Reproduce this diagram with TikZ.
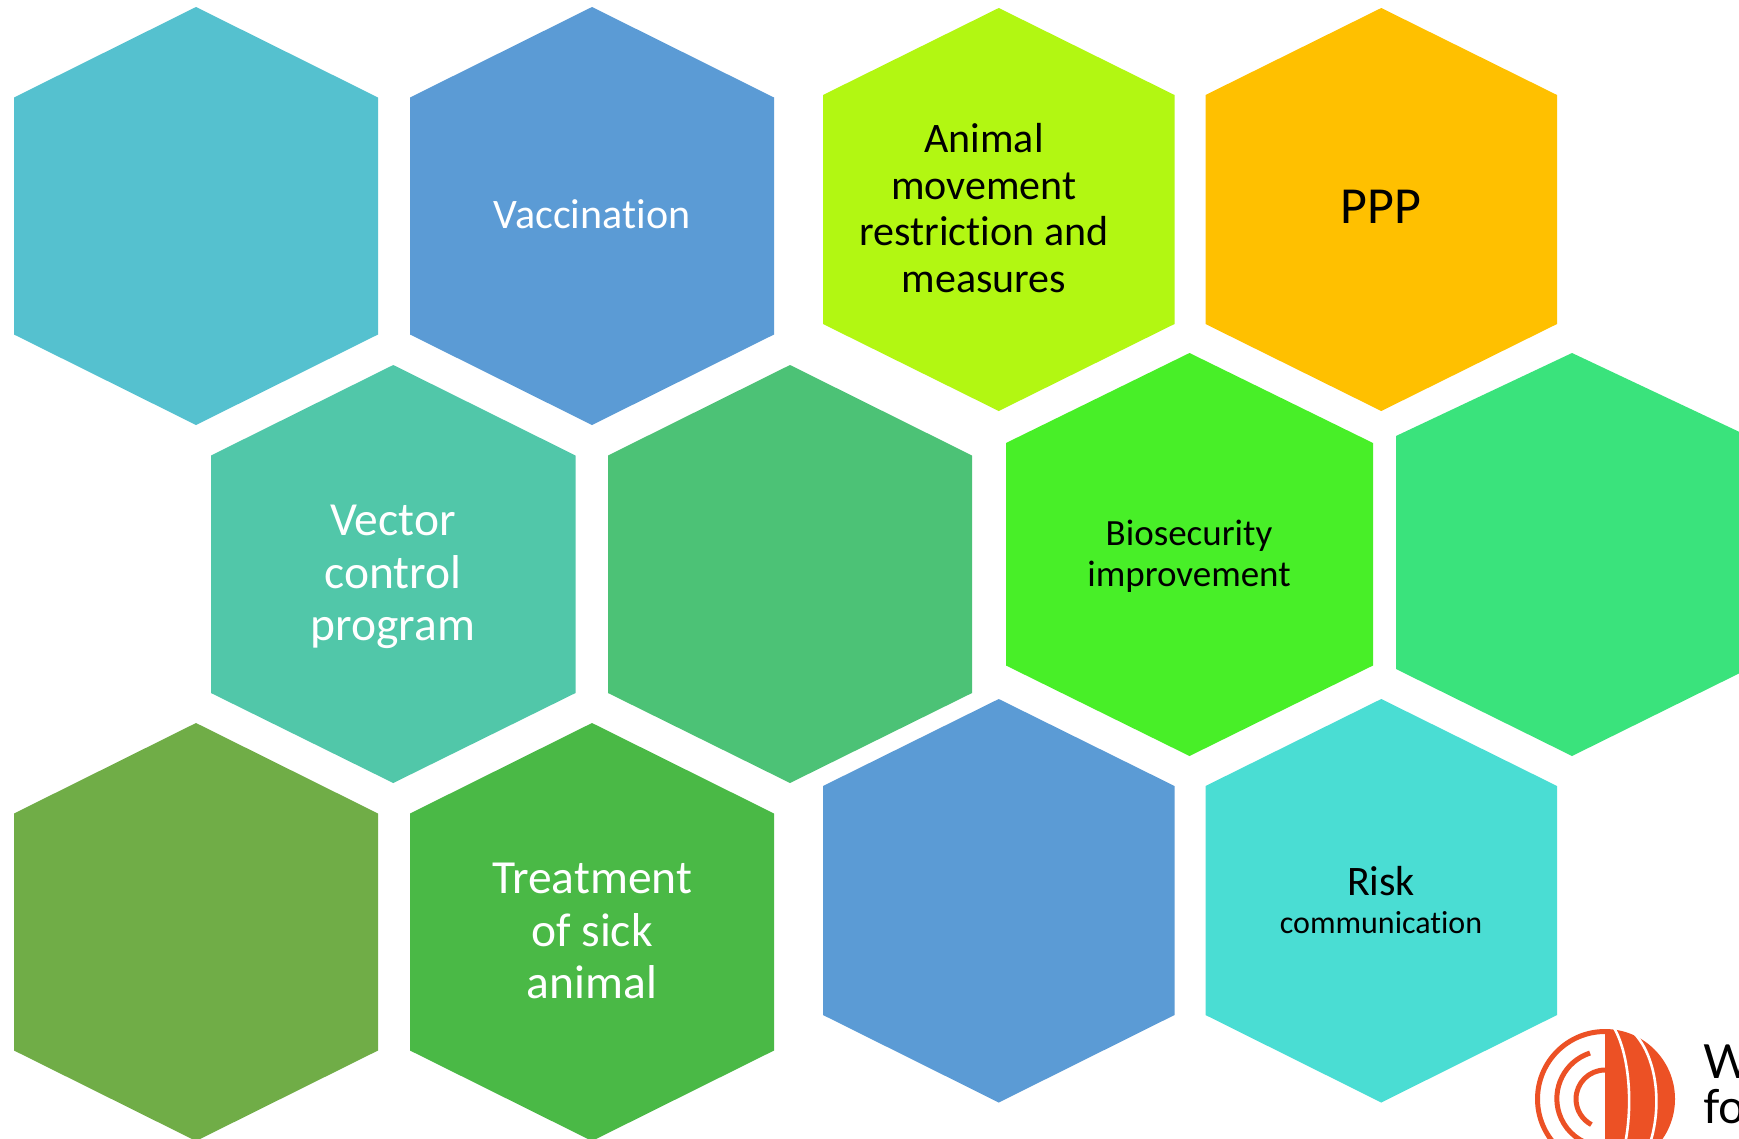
\documentclass[tikz,border=0pt]{standalone}
\usepackage{fontspec}
\setmainfont[Ligatures=NoCommon]{Carlito}
\newfontfamily\logofont{Lato}
\tikzset{
  x=1pt,y=-1pt,
  textbase/.style={inner sep=0pt,align=center,anchor=center},
  lightlabel/.style={textbase,text=white},
  darklabel/.style={textbase,text=black},
}
\newcommand{\sized}[2]{\fontsize{#1}{#2}\selectfont}
\newcommand{\hexshape}[7]{% left,right,top,shoulder1,shoulder2,bottom,colour
  \fill[#7] (#1,#4) -- ({(#1+#2)/2},#3) -- (#2,#4) -- (#2,#5) -- ({(#1+#2)/2},#6) -- (#1,#5) -- cycle;}
\definecolor{hA}{HTML}{55C1CF}
\definecolor{hB}{HTML}{5B9BD5}
\definecolor{hC}{HTML}{B2F712}
\definecolor{hD}{HTML}{FFC000}
\definecolor{hE}{HTML}{51C7A9}
\definecolor{hF}{HTML}{4CC276}
\definecolor{hG}{HTML}{48EF28}
\definecolor{hH}{HTML}{3AE37C}
\definecolor{hI}{HTML}{70AD47}
\definecolor{hJ}{HTML}{4AB946}
\definecolor{hK}{HTML}{5B9BD5}
\definecolor{hL}{HTML}{4ADDD3}
\definecolor{logoorange}{HTML}{EC5125}
\begin{document}
\begin{tikzpicture}
\useasboundingbox (0,0) rectangle (1739,1138);
\clip (0,0) rectangle (1739,1138);
\fill[white] (0,0) rectangle (1739,1138);
% row 1
\hexshape{14}{378}{7}{97.5}{334.5}{425}{hA}
\hexshape{410}{774}{7}{97.5}{334.5}{425}{hB}
\hexshape{823}{1174.5}{8}{95}{324}{411}{hC}
\hexshape{1205.5}{1557}{8}{95}{324}{411}{hD}
% row 2
\hexshape{211}{575.5}{365}{455.5}{693}{783}{hE}
\hexshape{608}{972}{365}{455.5}{693}{783}{hF}
\hexshape{1006}{1373}{353}{443}{665.5}{756}{hG}
\hexshape{1396}{1748}{353}{436}{669}{756}{hH}
% row 3
\hexshape{14}{378}{723}{813.5}{1050.5}{1141}{hI}
\hexshape{410}{774}{723}{813.5}{1050.5}{1141}{hJ}
\hexshape{823}{1174.5}{699}{786}{1015}{1102.5}{hK}
\hexshape{1205.5}{1557}{699}{786}{1015}{1102.5}{hL}
% labels
\node[lightlabel,font=\sized{42}{52}] (vacc) at (592,214) {Vaccination};
\node[darklabel,font=\sized{42}{46.6}] (move) at (984,208) {Animal\\movement\\restriction and\\measures};
\node[darklabel,font=\sized{52}{60}] (ppp) at (1381,207) {PPP};
\node[lightlabel,font=\sized{47.5}{52.7}] (vect) at (393,577) {Vector\\control\\program};
\node[darklabel,font=\sized{37}{41}] (bios) at (1189,556) {Biosecurity\\improvement};
\node[lightlabel,font=\sized{47.5}{52.7}] (treat) at (592,931) {Treatment\\of sick\\animal};
\node[darklabel,font=\sized{42}{50}] (risk) at (1381,881) {Risk};
\node[darklabel,font=\sized{32}{38}] (comm) at (1381,923) {communication};
% logo
\begin{scope}
  \fill[logoorange] (1605,1029) arc[start angle=-90,end angle=90,radius=70] -- cycle;
  \draw[white,line width=2.6pt] (1613,1026) .. controls (1634,1060) and (1634,1135) .. (1616,1172);
  \draw[white,line width=2.6pt] (1631,1030) .. controls (1664,1060) and (1664,1135) .. (1636,1170);
  \draw[logoorange,line width=5pt] (1605,1031.5) arc[start angle=-90,end angle=-270,radius=67.5];
  \draw[logoorange,line width=5pt] (1590,1053) arc[start angle=-108,end angle=-252,radius=48];
  \draw[logoorange,line width=5pt] (1605,1070) arc[start angle=-90,end angle=-242,radius=29];
\end{scope}
\node[darklabel,anchor=base west,font=\logofont\sized{47}{56}] (lw) at (1703,1078) {W};
\node[darklabel,anchor=base west,font=\logofont\sized{47}{56}] (lf) at (1703,1123) {fo};
\end{tikzpicture}
\end{document}
